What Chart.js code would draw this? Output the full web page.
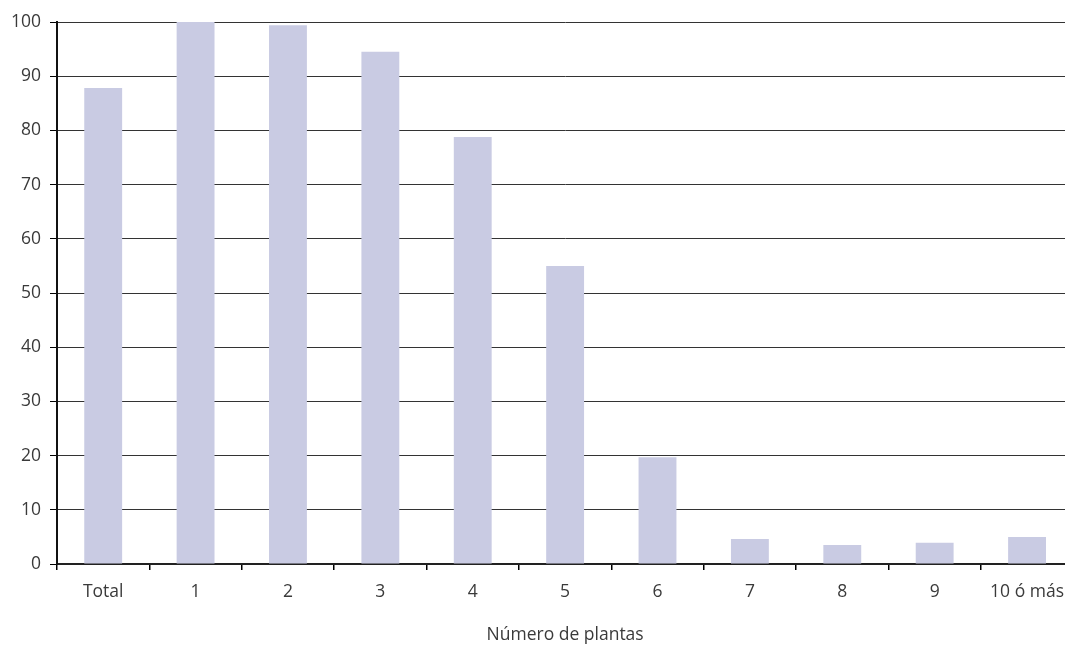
<!DOCTYPE html>
<html><head><meta charset="utf-8">
<script src="https://cdn.jsdelivr.net/npm/chart.js@4/dist/chart.umd.min.js"></script>
<style>html,body{margin:0;padding:0;background:#fff;overflow:hidden;}canvas{display:block;}</style>
</head><body>
<canvas id="c" width="1076" height="651"></canvas>
<script>
const categories = ["Total","1","2","3","4","5","6","7","8","9","10 ó más"];
const values = [87.8, 100, 99.4, 94.5, 78.8, 55.0, 19.7, 4.6, 3.5, 3.9, 5.0];
const yTicks = [0,10,20,30,40,50,60,70,80,90,100];
const xTitle = "Número de plantas";

const font = {family: "'Open Sans', 'DejaVu Sans', sans-serif", size: 17.5, weight: 'normal'};
new Chart(document.getElementById('c'), {
  type: 'bar',
  data: {labels: categories, datasets: [{data: values, backgroundColor: '#c9cbe3', borderWidth: 0,
    barPercentage: 0.41, categoryPercentage: 1}]},
  options: {
    responsive: false, animation: false,
    layout: {padding: {top: 22, right: 0, left: 0, bottom: 0}},
    plugins: {legend: {display: false}, tooltip: {enabled: false}},
    scales: {
      x: {
        offset: true,
        grid: {offset: true, drawOnChartArea: false, drawTicks: true, tickLength: 6, color: '#000', lineWidth: 1.5},
        border: {display: true, color: '#222', width: 2},
        ticks: {color: '#3a3a3a', font: font, padding: 12, maxRotation: 0},
        title: {display: true, text: xTitle, color: '#3a3a3a', font: font, padding: {top: 0, bottom: 5}},
        afterFit: s => { s.height = 87; }
      },
      y: {
        min: 0, max: 100,
        afterBuildTicks: s => { s.ticks = yTicks.map(v => ({value: v})); },
        grid: {color: '#333', lineWidth: 1, tickLength: 7, tickColor: '#000'},
        border: {display: true, color: '#111', width: 2},
        ticks: {color: '#3a3a3a', font: font, padding: 9},
        afterFit: s => { s.width = 57; }
      }
    }
  }
});
</script>
</body></html>
